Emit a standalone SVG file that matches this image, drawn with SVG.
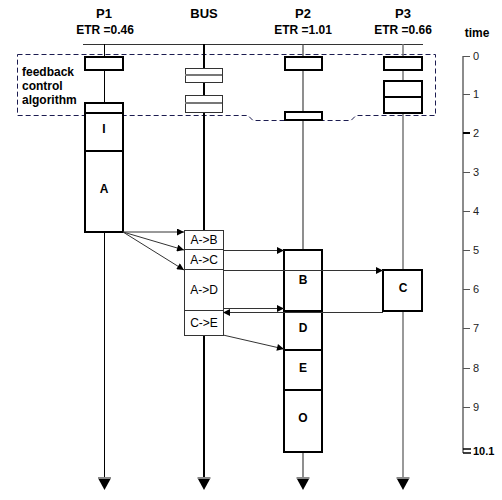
<svg xmlns="http://www.w3.org/2000/svg" width="502" height="500" viewBox="0 0 502 500">
<style>
text{font-family:"Liberation Sans",Arial,sans-serif;fill:#000}
.h{font-size:13px;font-weight:bold;text-anchor:middle}
.etr{font-size:12px;font-weight:bold;text-anchor:middle}
.fb{font-size:12px;font-weight:bold}
.bl{font-size:12px;font-weight:bold;text-anchor:middle}
.bus{font-size:12px;text-anchor:middle}
.tl{font-size:11px;fill:#222}
.tk{fill:#fff;stroke:#000;stroke-width:2}
.tn{fill:#fff;stroke:#333;stroke-width:1}
.mid{stroke:#777;stroke-width:2}
.cn{stroke:#333;stroke-width:1;fill:none;marker-end:url(#ah)}
.tick{stroke:#555;stroke-width:1}
</style>
<defs>
<marker id="ah" viewBox="0 0 10 10" refX="10" refY="5" markerWidth="8" markerHeight="7" markerUnits="userSpaceOnUse" orient="auto">
<path d="M0,0 L10,5 L0,10 Z" fill="#000"/>
</marker>
<g id="endArrow">
<rect x="-6.5" y="477" width="13" height="2" fill="#888"/>
<polygon points="-6,479 6,479 0,490" fill="#000"/>
</g>
</defs>
<rect width="502" height="500" fill="#fff"/>

<!-- headers -->
<g id="headers">
<text class="h" x="104" y="18">P1</text>
<text class="etr" x="105" y="34">ETR =0.46</text>
<text class="h" x="204" y="18">BUS</text>
<text class="h" x="303" y="18">P2</text>
<text class="etr" x="303" y="34">ETR =1.01</text>
<text class="h" x="403" y="18">P3</text>
<text class="etr" x="403" y="34">ETR =0.66</text>
<text x="477" y="37" style="font-size:12px;font-weight:bold;text-anchor:middle">time</text>
</g>

<!-- feedback region -->
<g id="feedback">
<path d="M17.5,54.5 H435.5 V115.5 H356 L351,120.5 H253 L248,115.5 H17.5 Z" fill="none" stroke="#1c1c50" stroke-width="1" stroke-dasharray="5,3"/>
<text class="fb" x="22" y="76">feedback</text>
<text class="fb" x="22" y="90">control</text>
<text class="fb" x="22" y="104">algorithm</text>
</g>

<!-- timelines -->
<g id="timelines">
<line x1="83" y1="44.5" x2="423" y2="44.5" stroke="#333" stroke-width="1"/>
<line x1="104.5" y1="44" x2="104.5" y2="479" stroke="#000" stroke-width="1"/>
<line x1="204" y1="44" x2="204" y2="479" stroke="#000" stroke-width="2"/>
<line x1="303" y1="44" x2="303" y2="479" stroke="#444" stroke-width="1.2"/>
<line x1="403" y1="44" x2="403" y2="479" stroke="#777" stroke-width="1.5"/>
<use href="#endArrow" x="104.5"/>
<use href="#endArrow" x="204"/>
<use href="#endArrow" x="303"/>
<use href="#endArrow" x="403"/>
</g>

<!-- P1 -->
<g id="p1">
<rect x="85" y="57" width="38" height="13" class="tk"/>
<rect x="85" y="103" width="38" height="129" class="tk"/>
<line x1="85" y1="113" x2="123" y2="113" stroke="#000" stroke-width="2"/>
<line x1="85" y1="151" x2="123" y2="151" stroke="#000" stroke-width="2"/>
<text class="bl" x="104" y="133">I</text>
<text class="bl" x="104" y="193">A</text>
</g>

<!-- BUS -->
<g id="bus">
<rect x="185.5" y="68.5" width="37" height="14" class="tn"/>
<line x1="185" y1="75" x2="222" y2="75" class="mid"/>
<rect x="185.5" y="95.5" width="37" height="17" class="tn"/>
<line x1="185" y1="103" x2="222" y2="103" class="mid"/>
<rect x="184.5" y="230.5" width="39" height="105" class="tn"/>
<line x1="184" y1="249.5" x2="223" y2="249.5" stroke="#333"/>
<line x1="184" y1="269.5" x2="223" y2="269.5" stroke="#333"/>
<line x1="184" y1="310.5" x2="223" y2="310.5" stroke="#333"/>
<text class="bus" x="204" y="244">A-&gt;B</text>
<text class="bus" x="204" y="264">A-&gt;C</text>
<text class="bus" x="204" y="294">A-&gt;D</text>
<text class="bus" x="204" y="327">C-&gt;E</text>
</g>

<!-- P2 -->
<g id="p2">
<rect x="285" y="57" width="37" height="13" class="tk"/>
<rect x="285" y="112" width="37" height="8" class="tk"/>
<rect x="284" y="250" width="38" height="202" class="tk"/>
<line x1="284" y1="311" x2="322" y2="311" stroke="#000" stroke-width="2"/>
<line x1="284" y1="350" x2="322" y2="350" stroke="#000" stroke-width="2"/>
<line x1="284" y1="390" x2="322" y2="390" stroke="#000" stroke-width="2"/>
<text class="bl" x="303" y="284">B</text>
<text class="bl" x="303" y="332">D</text>
<text class="bl" x="303" y="372">E</text>
<text class="bl" x="303" y="422">O</text>
</g>

<!-- P3 -->
<g id="p3">
<rect x="384" y="57" width="38" height="13" class="tk"/>
<rect x="384" y="81" width="38" height="32" class="tk"/>
<line x1="384" y1="97" x2="422" y2="97" stroke="#000" stroke-width="2"/>
<rect x="383" y="270" width="39" height="41" class="tk"/>
<text class="bl" x="403" y="292">C</text>
</g>

<!-- connectors -->
<g id="connectors">
<line x1="123" y1="232" x2="184" y2="232" class="cn"/>
<line x1="123" y1="232" x2="184" y2="250" class="cn"/>
<line x1="123" y1="232" x2="184" y2="270" class="cn"/>
<line x1="223" y1="250.5" x2="284" y2="250.5" class="cn"/>
<line x1="223" y1="270.5" x2="383" y2="270.5" class="cn"/>
<line x1="223" y1="308.5" x2="284" y2="308.5" class="cn"/>
<line x1="383" y1="312.5" x2="223" y2="312.5" class="cn"/>
<line x1="223" y1="335" x2="284" y2="349" class="cn"/>
</g>

<!-- time axis -->
<g id="time-axis">
<line x1="463" y1="56" x2="463" y2="453" stroke="#666" stroke-width="1.5"/>
<line x1="463" y1="56.5" x2="470" y2="56.5" class="tick"/>
<line x1="463" y1="94.5" x2="470" y2="94.5" class="tick"/>
<line x1="463" y1="133" x2="470" y2="133" stroke="#000" stroke-width="2"/>
<line x1="463" y1="172.5" x2="470" y2="172.5" class="tick"/>
<line x1="463" y1="211.5" x2="470" y2="211.5" class="tick"/>
<line x1="463" y1="250.5" x2="470" y2="250.5" class="tick"/>
<line x1="463" y1="289.5" x2="470" y2="289.5" class="tick"/>
<line x1="463" y1="328.5" x2="470" y2="328.5" class="tick"/>
<line x1="463" y1="368.5" x2="470" y2="368.5" class="tick"/>
<line x1="463" y1="407.5" x2="470" y2="407.5" class="tick"/>
<line x1="463" y1="449" x2="471" y2="449" stroke="#000" stroke-width="1.5"/>
<line x1="463" y1="453" x2="471" y2="453" stroke="#000" stroke-width="1.5"/>
<text class="tl" x="473" y="60">0</text>
<text class="tl" x="473" y="98">1</text>
<text class="tl" x="473" y="137">2</text>
<text class="tl" x="473" y="176">3</text>
<text class="tl" x="473" y="215">4</text>
<text class="tl" x="473" y="254">5</text>
<text class="tl" x="473" y="293">6</text>
<text class="tl" x="473" y="332">7</text>
<text class="tl" x="473" y="372">8</text>
<text class="tl" x="473" y="411">9</text>
<text x="473" y="455" style="font-size:11px;font-weight:bold">10.1</text>
</g>
</svg>
